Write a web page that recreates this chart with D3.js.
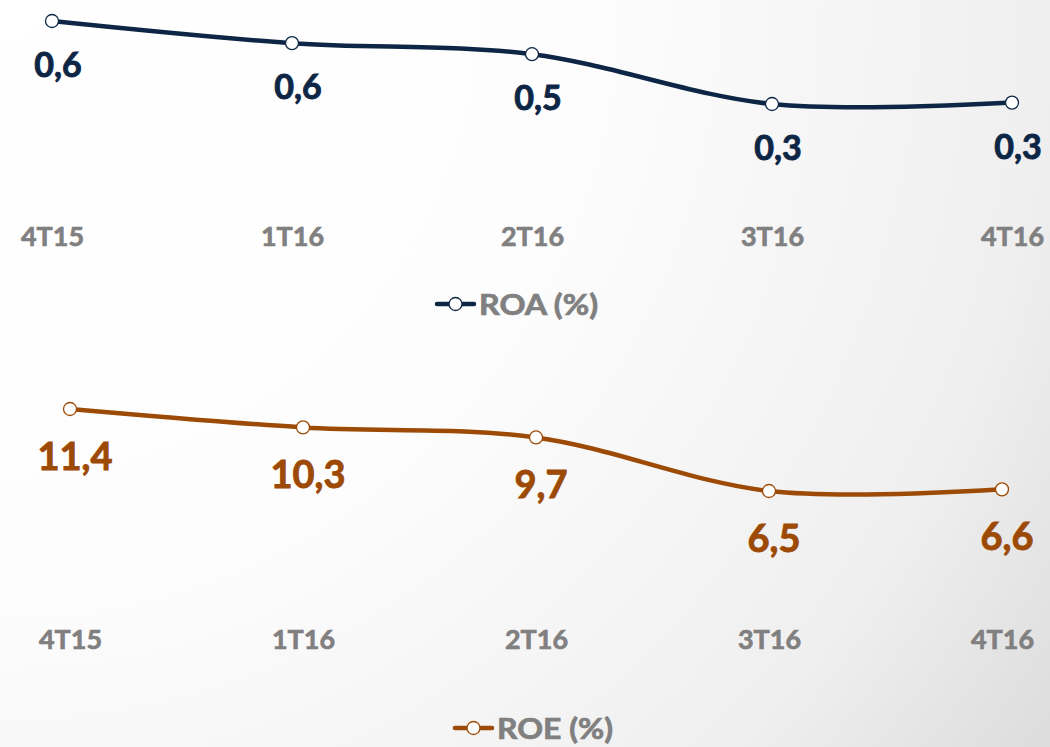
<!DOCTYPE html>
<html>
<head>
<meta charset="utf-8">
<script src="https://cdn.jsdelivr.net/npm/d3@7"></script>
<style>
  html, body { margin: 0; padding: 0; background: #fff; }
  svg { display: block; }
</style>
</head>
<body>
<svg id="chart" width="1050" height="747"></svg>
<script>
// ---- data ----
const categories = ["4T15", "1T16", "2T16", "3T16", "4T16"];
const roaValues = [0.64, 0.56, 0.52, 0.34, 0.345];
const roeValues = [11.4, 10.3, 9.7, 6.5, 6.6];
const roaName = "ROA (%)";
const roeName = "ROE (%)";

// ---- setup ----
const W = 1050, H = 747;
const svg = d3.select("#chart");
const FONT = "Lato, 'Open Sans', sans-serif";
const locale = d3.formatLocale({decimal: ",", thousands: ".", grouping: [3], currency: ["", ""]});
const fmt = locale.format(".1f");

// background gradient
const defs = svg.append("defs");
const grad = defs.append("radialGradient")
  .attr("id", "bg").attr("gradientUnits", "userSpaceOnUse")
  .attr("cx", 0).attr("cy", 0).attr("r", 1290);
[[0, "#ffffff"], [0.45, "#fdfdfd"], [0.58, "#f8f8f8"], [0.81, "#efefef"], [1, "#dcdcdc"]]
  .forEach(([o, c]) => grad.append("stop").attr("offset", o).attr("stop-color", c));
svg.append("rect").attr("width", W).attr("height", H).attr("fill", "url(#bg)");

function panel(cfg) {
  const g = svg.append("g");
  const x = d3.scalePoint().domain(categories).range(cfg.xRange);
  const y = d3.scaleLinear().domain(cfg.yDomain).range(cfg.yRange);
  const data = categories.map((c, i) => ({c, v: cfg.values[i]}));

  const line = d3.line().x(d => x(d.c)).y(d => y(d.v)).curve(d3.curveCardinal.tension(0));
  g.append("path").datum(data)
    .attr("d", line).attr("fill", "none")
    .attr("stroke", cfg.color).attr("stroke-width", 4.5)
    .attr("stroke-linecap", "round");

  g.selectAll("circle.pt").data(data).join("circle")
    .attr("class", "pt")
    .attr("cx", d => x(d.c)).attr("cy", d => y(d.v)).attr("r", 6.5)
    .attr("fill", "#fff").attr("stroke", cfg.color).attr("stroke-width", 1.3);

  g.selectAll("text.val").data(data).join("text")
    .attr("class", "val")
    .attr("x", d => x(d.c) + cfg.labelDx)
    .attr("y", d => y(d.v) + cfg.labelDy)
    .attr("text-anchor", "middle")
    .attr("font-family", FONT).attr("font-weight", 700)
    .attr("font-size", cfg.labelSize).attr("fill", cfg.color)
    .attr("stroke", cfg.color).attr("stroke-width", 0.9)
    .text(d => fmt(d.v));

  // category axis labels
  const axis = d3.axisBottom(x).tickSize(0).tickPadding(0);
  const ax = g.append("g").attr("transform", `translate(0,${cfg.axisY})`).call(axis);
  ax.select(".domain").remove();
  ax.selectAll("text")
    .attr("dy", 0).attr("y", 0)
    .attr("font-family", FONT).attr("font-weight", 700)
    .attr("font-size", 27).attr("fill", "#808080")
    .attr("stroke", "#808080").attr("stroke-width", 0.7)
    .attr("textLength", 63).attr("lengthAdjust", "spacingAndGlyphs");

  // legend
  const lg = g.append("g").attr("transform", `translate(${cfg.legendX},${cfg.legendY})`);
  lg.append("line").attr("x1", 0).attr("x2", 37).attr("y1", 0).attr("y2", 0)
    .attr("stroke", cfg.color).attr("stroke-width", 4.5).attr("stroke-linecap", "round");
  lg.append("circle").attr("cx", 18.5).attr("cy", 0).attr("r", 6.5)
    .attr("fill", "#fff").attr("stroke", cfg.color).attr("stroke-width", 1.3);
  lg.append("text").attr("x", 42).attr("y", 11)
    .attr("font-family", FONT).attr("font-weight", 700)
    .attr("font-size", 28).attr("fill", "#808080")
    .attr("stroke", "#808080").attr("stroke-width", 0.7)
    .attr("textLength", cfg.legendW).attr("lengthAdjust", "spacingAndGlyphs")
    .text(cfg.name);
}

panel({
  values: roaValues, name: roaName, color: "#0e2645",
  xRange: [52, 1012], yDomain: [0.34, 0.64], yRange: [104, 21],
  labelDx: 6, labelDy: 56, labelSize: 34,
  axisY: 246, legendX: 437, legendY: 304, legendW: 119
});

panel({
  values: roeValues, name: roeName, color: "#9c4a06",
  xRange: [70, 1002], yDomain: [6.5, 11.4], yRange: [491, 409],
  labelDx: 5, labelDy: 61, labelSize: 38,
  axisY: 649, legendX: 455, legendY: 728, legendW: 116
});
</script>
</body>
</html>
